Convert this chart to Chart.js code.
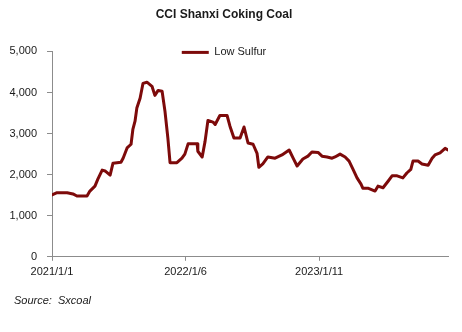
<!DOCTYPE html>
<html>
<head>
<meta charset="utf-8">
<title>CCI Shanxi Coking Coal</title>
<script src="https://cdn.jsdelivr.net/npm/chart.js@4/dist/chart.umd.min.js"></script>
<style>
    body { margin: 0; background: #fff; }
    #chart { display: block; }
</style>
</head>
<body>
<canvas id="chart" width="462" height="332"></canvas>
<script>
// Weekly-ish readings of the CCI Shanxi low sulfur coking coal price
const dates = [
    '2021/1/1', '2021/1/15', '2021/2/12', '2021/2/28', '2021/3/11', '2021/4/8', '2021/4/16', '2021/4/30',
    '2021/5/8', '2021/5/20', '2021/5/28', '2021/6/11', '2021/6/19', '2021/7/11', '2021/7/17', '2021/7/28',
    '2021/8/8', '2021/8/13', '2021/8/19', '2021/8/24', '2021/9/2', '2021/9/10', '2021/9/21', '2021/10/5',
    '2021/10/13', '2021/10/22', '2021/11/2', '2021/11/10', '2021/11/18', '2021/11/24', '2021/12/13', '2021/12/27',
    '2022/1/4', '2022/1/13', '2022/2/7', '2022/2/9', '2022/2/21', '2022/3/1', '2022/3/9', '2022/3/23',
    '2022/3/29', '2022/4/11', '2022/5/1', '2022/5/9', '2022/5/20', '2022/6/6', '2022/6/17', '2022/6/28',
    '2022/7/12', '2022/7/23', '2022/7/28', '2022/8/8', '2022/8/22', '2022/9/11', '2022/9/30', '2022/10/20',
    '2022/10/31', '2022/11/11', '2022/11/27', '2022/12/11', '2022/12/22', '2023/1/8', '2023/1/19', '2023/2/2',
    '2023/2/16', '2023/2/24', '2023/3/10', '2023/3/24', '2023/4/4', '2023/4/15', '2023/4/26', '2023/5/7',
    '2023/5/12', '2023/5/26', '2023/6/15', '2023/6/23', '2023/7/7', '2023/7/21', '2023/8/1', '2023/8/15',
    '2023/8/31', '2023/9/11', '2023/9/22', '2023/9/28', '2023/10/12', '2023/10/23', '2023/11/9', '2023/11/20',
    '2023/11/28', '2023/12/12', '2023/12/26', '2024/1/3'
];

const lowSulfur = [
    1505, 1560, 1560, 1530, 1480, 1480, 1600, 1720,
    1890, 2110, 2090, 1990, 2280, 2300, 2400, 2650,
    2740, 3100, 3300, 3620, 3860, 4220, 4250, 4150,
    3930, 4050, 4030, 3540, 2890, 2290, 2290, 2400,
    2500, 2750, 2750, 2570, 2430, 2810, 3320, 3280,
    3220, 3440, 3440, 3180, 2890, 2890, 3160, 2770,
    2740, 2520, 2180, 2260, 2430, 2400, 2480, 2600,
    2400, 2210, 2380, 2450, 2550, 2540, 2450, 2430,
    2400, 2430, 2500, 2430, 2330, 2130, 1920, 1770,
    1670, 1670, 1600, 1720, 1680, 1840, 1970, 1970,
    1920, 2040, 2130, 2330, 2330, 2260, 2230, 2400,
    2480, 2530, 2640, 2600
];

const tickLabels = ['2021/1/1', '2022/1/6', '2023/1/11'];
const yTicks = [0, 1000, 2000, 3000, 4000, 5000];

const FONT = "'Liberation Sans', Arial, sans-serif";
const LINE_COLOR = '#7d0a0a';
const AXIS_COLOR = '#8c8c8c';

// days since first date
const dayOf = (s) => Math.round((new Date(s) - new Date(dates[0])) / 86400000);

const points = dates.map((d, i) => ({ x: dayOf(d), y: lowSulfur[i] }));

// legend sits on the top edge of the plot, source note indented a bit
const nudgeBoxes = {
    id: 'nudgeBoxes',
    afterLayout(chart) {
        const lg = chart.legend;
        if (lg) {
            const dy = chart.chartArea.top + 6 - (lg.top + lg.bottom) / 2;
            lg.top += dy;
            lg.bottom += dy;
            if (lg.adjustHitBoxes) lg.adjustHitBoxes();
        }
        const sub = chart.boxes.find(b => b.options && b.options.text === 'Source:  Sxcoal');
        if (sub) {
            sub.left += 14;
            sub.right += 14;
        }
    }
};

const config = {
    type: 'line',
    data: {
        datasets: [{
            label: 'Low Sulfur',
            data: points,
            borderColor: LINE_COLOR,
            backgroundColor: LINE_COLOR,
            borderWidth: 3,
            pointRadius: 0,
            tension: 0,
            borderJoinStyle: 'round',
            borderCapStyle: 'round'
        }]
    },
    options: {
        responsive: false,
        animation: false,
        layout: {
            padding: { left: 0, right: 14, top: 0, bottom: 0 }
        },
        plugins: {
            title: {
                display: true,
                text: 'CCI Shanxi Coking Coal',
                color: '#1a1a1a',
                font: { family: FONT, size: 12, weight: 'bold' },
                padding: { top: 7, bottom: 9 }
            },
            subtitle: {
                display: true,
                position: 'bottom',
                align: 'start',
                text: 'Source:  Sxcoal',
                color: '#1a1a1a',
                font: { family: FONT, size: 11, style: 'italic' },
                padding: { top: 13, bottom: 24 }
            },
            legend: {
                position: 'top',
                align: 'center',
                labels: {
                    usePointStyle: true,
                    pointStyle: 'line',
                    pointStyleWidth: 27,
                    padding: 0,
                    color: '#1a1a1a',
                    font: { family: FONT, size: 11 }
                }
            },
            tooltip: { enabled: false }
        },
        scales: {
            x: {
                type: 'linear',
                min: 0,
                max: dayOf(dates[dates.length - 1]),
                afterBuildTicks: (axis) => {
                    axis.ticks = tickLabels.map(t => ({ value: dayOf(t) }));
                },
                afterFit: (axis) => { axis.height = 25; },
                ticks: {
                    autoSkip: false,
                    maxRotation: 0,
                    padding: 5,
                    color: '#1a1a1a',
                    font: { family: FONT, size: 11 },
                    callback: (value) => {
                        const idx = tickLabels.findIndex(t => dayOf(t) === value);
                        return idx >= 0 ? tickLabels[idx] : '';
                    }
                },
                grid: {
                    drawOnChartArea: false,
                    drawTicks: true,
                    tickLength: 4,
                    color: AXIS_COLOR
                },
                border: { display: true, color: AXIS_COLOR, width: 1 }
            },
            y: {
                min: 0,
                max: 5000,
                afterBuildTicks: (axis) => {
                    axis.ticks = yTicks.map(v => ({ value: v }));
                },
                afterFit: (axis) => { axis.width = 52; },
                ticks: {
                    padding: 10,
                    color: '#1a1a1a',
                    font: { family: FONT, size: 11 },
                    callback: (value) => value.toLocaleString('en-US')
                },
                grid: {
                    drawOnChartArea: false,
                    drawTicks: true,
                    tickLength: 5,
                    color: AXIS_COLOR
                },
                border: { display: true, color: AXIS_COLOR, width: 1 }
            }
        }
    },
    plugins: [nudgeBoxes]
};

const ctx = document.getElementById('chart').getContext('2d');
new Chart(ctx, config);
</script>
</body>
</html>
